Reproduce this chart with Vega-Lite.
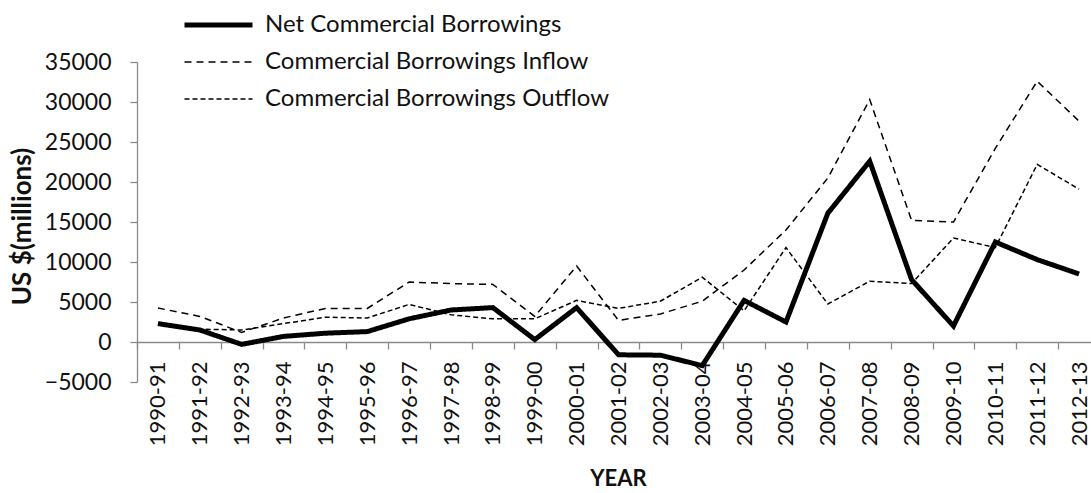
{
  "$schema": "https://vega.github.io/schema/vega-lite/v6.json",
  "autosize": "none",
  "width": 954,
  "height": 320,
  "padding": {"left": 137, "top": 62, "right": 0, "bottom": 111},
  "background": "white",
  "config": {
    "font": "Lato",
    "view": {"stroke": null},
    "axis": {
      "grid": false,
      "domainColor": "#8a8a8a",
      "tickColor": "#8a8a8a",
      "domainWidth": 1.3,
      "tickWidth": 1.3,
      "tickSize": 7,
      "labelColor": "#111",
      "titleColor": "#111",
      "labelFont": "Lato",
      "titleFont": "Lato"
    },
    "legend": {"labelFont": "Lato"}
  },
  "data": {
    "values": [
      {"year": "1990-91", "series": "Net Commercial Borrowings", "value": 2300},
      {"year": "1991-92", "series": "Net Commercial Borrowings", "value": 1500},
      {"year": "1992-93", "series": "Net Commercial Borrowings", "value": -300},
      {"year": "1993-94", "series": "Net Commercial Borrowings", "value": 700},
      {"year": "1994-95", "series": "Net Commercial Borrowings", "value": 1100},
      {"year": "1995-96", "series": "Net Commercial Borrowings", "value": 1300},
      {"year": "1996-97", "series": "Net Commercial Borrowings", "value": 2900},
      {"year": "1997-98", "series": "Net Commercial Borrowings", "value": 4000},
      {"year": "1998-99", "series": "Net Commercial Borrowings", "value": 4300},
      {"year": "1999-00", "series": "Net Commercial Borrowings", "value": 300},
      {"year": "2000-01", "series": "Net Commercial Borrowings", "value": 4300},
      {"year": "2001-02", "series": "Net Commercial Borrowings", "value": -1600},
      {"year": "2002-03", "series": "Net Commercial Borrowings", "value": -1650},
      {"year": "2003-04", "series": "Net Commercial Borrowings", "value": -2950},
      {"year": "2004-05", "series": "Net Commercial Borrowings", "value": 5200},
      {"year": "2005-06", "series": "Net Commercial Borrowings", "value": 2500},
      {"year": "2006-07", "series": "Net Commercial Borrowings", "value": 16100},
      {"year": "2007-08", "series": "Net Commercial Borrowings", "value": 22600},
      {"year": "2008-09", "series": "Net Commercial Borrowings", "value": 7800},
      {"year": "2009-10", "series": "Net Commercial Borrowings", "value": 2000},
      {"year": "2010-11", "series": "Net Commercial Borrowings", "value": 12500},
      {"year": "2011-12", "series": "Net Commercial Borrowings", "value": 10300},
      {"year": "2012-13", "series": "Net Commercial Borrowings", "value": 8500},
      {"year": "1990-91", "series": "Commercial Borrowings Inflow", "value": 4250},
      {"year": "1991-92", "series": "Commercial Borrowings Inflow", "value": 3200},
      {"year": "1992-93", "series": "Commercial Borrowings Inflow", "value": 1200},
      {"year": "1993-94", "series": "Commercial Borrowings Inflow", "value": 3000},
      {"year": "1994-95", "series": "Commercial Borrowings Inflow", "value": 4200},
      {"year": "1995-96", "series": "Commercial Borrowings Inflow", "value": 4200},
      {"year": "1996-97", "series": "Commercial Borrowings Inflow", "value": 7500},
      {"year": "1997-98", "series": "Commercial Borrowings Inflow", "value": 7300},
      {"year": "1998-99", "series": "Commercial Borrowings Inflow", "value": 7200},
      {"year": "1999-00", "series": "Commercial Borrowings Inflow", "value": 3200},
      {"year": "2000-01", "series": "Commercial Borrowings Inflow", "value": 9500},
      {"year": "2001-02", "series": "Commercial Borrowings Inflow", "value": 2700},
      {"year": "2002-03", "series": "Commercial Borrowings Inflow", "value": 3500},
      {"year": "2003-04", "series": "Commercial Borrowings Inflow", "value": 5100},
      {"year": "2004-05", "series": "Commercial Borrowings Inflow", "value": 9000},
      {"year": "2005-06", "series": "Commercial Borrowings Inflow", "value": 14000},
      {"year": "2006-07", "series": "Commercial Borrowings Inflow", "value": 20500},
      {"year": "2007-08", "series": "Commercial Borrowings Inflow", "value": 30300},
      {"year": "2008-09", "series": "Commercial Borrowings Inflow", "value": 15200},
      {"year": "2009-10", "series": "Commercial Borrowings Inflow", "value": 15000},
      {"year": "2010-11", "series": "Commercial Borrowings Inflow", "value": 24200},
      {"year": "2011-12", "series": "Commercial Borrowings Inflow", "value": 32600},
      {"year": "2012-13", "series": "Commercial Borrowings Inflow", "value": 27600},
      {"year": "1990-91", "series": "Commercial Borrowings Outflow", "value": 2200},
      {"year": "1991-92", "series": "Commercial Borrowings Outflow", "value": 1600},
      {"year": "1992-93", "series": "Commercial Borrowings Outflow", "value": 1500},
      {"year": "1993-94", "series": "Commercial Borrowings Outflow", "value": 2300},
      {"year": "1994-95", "series": "Commercial Borrowings Outflow", "value": 3100},
      {"year": "1995-96", "series": "Commercial Borrowings Outflow", "value": 3000},
      {"year": "1996-97", "series": "Commercial Borrowings Outflow", "value": 4700},
      {"year": "1997-98", "series": "Commercial Borrowings Outflow", "value": 3400},
      {"year": "1998-99", "series": "Commercial Borrowings Outflow", "value": 2900},
      {"year": "1999-00", "series": "Commercial Borrowings Outflow", "value": 2900},
      {"year": "2000-01", "series": "Commercial Borrowings Outflow", "value": 5200},
      {"year": "2001-02", "series": "Commercial Borrowings Outflow", "value": 4200},
      {"year": "2002-03", "series": "Commercial Borrowings Outflow", "value": 5100},
      {"year": "2003-04", "series": "Commercial Borrowings Outflow", "value": 8100},
      {"year": "2004-05", "series": "Commercial Borrowings Outflow", "value": 3900},
      {"year": "2005-06", "series": "Commercial Borrowings Outflow", "value": 11800},
      {"year": "2006-07", "series": "Commercial Borrowings Outflow", "value": 4750},
      {"year": "2007-08", "series": "Commercial Borrowings Outflow", "value": 7600},
      {"year": "2008-09", "series": "Commercial Borrowings Outflow", "value": 7300},
      {"year": "2009-10", "series": "Commercial Borrowings Outflow", "value": 13000},
      {"year": "2010-11", "series": "Commercial Borrowings Outflow", "value": 11800},
      {"year": "2011-12", "series": "Commercial Borrowings Outflow", "value": 22200},
      {"year": "2012-13", "series": "Commercial Borrowings Outflow", "value": 19100}
    ]
  },
  "mark": {"type": "line", "color": "black", "strokeJoin": "miter", "strokeCap": "butt"},
  "encoding": {
    "x": {
      "field": "year",
      "type": "ordinal",
      "sort": null,
      "scale": {"type": "band", "paddingInner": 0, "paddingOuter": 0, "range": [0, 963]},
      "axis": {
        "title": "YEAR",
        "titleFontSize": 22,
        "titleFontWeight": "bold",
        "titleX": 481,
        "titlePadding": 23,
        "labelAngle": -90,
        "labelAlign": "right",
        "labelBaseline": "middle",
        "labelFontSize": 22,
        "labelPadding": 12,
        "tickBand": "extent",
        "offset": -40,
        "zindex": 0
      }
    },
    "y": {
      "field": "value",
      "type": "quantitative",
      "scale": {"domain": [-5000, 35000], "nice": false, "zero": false},
      "axis": {
        "title": "US $(millions)",
        "titleFontSize": 26,
        "titleFontWeight": "bold",
        "titleAngle": -90,
        "titleX": -115,
        "titleY": 164,
        "titleAlign": "center",
        "titleBaseline": "middle",
        "values": [-5000, 0, 5000, 10000, 15000, 20000, 25000, 30000, 35000],
        "format": "d",
        "labelFontSize": 23,
        "labelPadding": 19,
        "labelBaseline": "middle"
      }
    },
    "strokeDash": {
      "field": "series",
      "type": "nominal",
      "scale": {
        "domain": ["Net Commercial Borrowings", "Commercial Borrowings Inflow", "Commercial Borrowings Outflow"],
        "range": [[1, 0], [7, 5], [5, 3]]
      },
      "legend": {
        "title": null,
        "orient": "none",
        "legendX": 45,
        "legendY": -54,
        "symbolType": "stroke",
        "symbolSize": 4624,
        "symbolStrokeColor": "black",
        "labelFontSize": 24,
        "labelColor": "#111",
        "labelOffset": 10,
        "clipHeight": 34,
        "rowPadding": 3,
        "labelLimit": 500
      }
    },
    "strokeWidth": {
      "field": "series",
      "type": "nominal",
      "scale": {
        "type": "ordinal",
        "domain": ["Net Commercial Borrowings", "Commercial Borrowings Inflow", "Commercial Borrowings Outflow"],
        "range": [5, 1.5, 1.5]
      },
      "legend": {
        "title": null,
        "orient": "none",
        "legendX": 45,
        "legendY": -54,
        "symbolType": "stroke",
        "symbolSize": 4624,
        "symbolStrokeColor": "black",
        "labelFontSize": 24,
        "labelColor": "#111",
        "labelOffset": 10,
        "clipHeight": 34,
        "rowPadding": 3,
        "labelLimit": 500
      }
    }
  }
}
